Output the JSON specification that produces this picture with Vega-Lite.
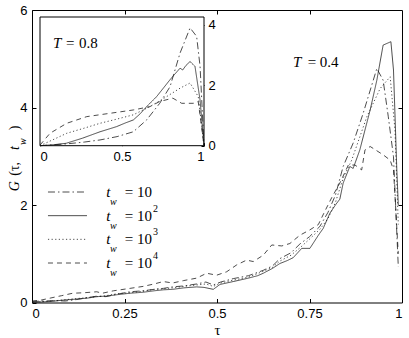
{
"$schema": "https://vega.github.io/schema/vega-lite/v6.json",
"width": 370,
"height": 292.5,
"autosize": {"type": "none"},
"padding": {"left": 32, "top": 10, "right": 7, "bottom": 35.5},
"background": "white",
"config": {
  "view": {"stroke": "#000", "strokeWidth": 1},
  "axis": {"labelFont": "Liberation Sans", "labelFontSize": 13, "labelColor": "#000", "tickColor": "#000", "grid": false, "domain": false, "tickWidth": 1},
  "text": {"font": "Liberation Serif", "fontSize": 15, "color": "#000"}
},
"datasets": {
  "main": [
    {"tw":"10","t":0,"g":0.02},{"tw":"10","t":0.03,"g":0.03},{"tw":"10","t":0.06,"g":0.04},{"tw":"10","t":0.09,"g":0.03},{"tw":"10","t":0.12,"g":0.06},{"tw":"10","t":0.15,"g":0.1},{"tw":"10","t":0.175,"g":0.13},{"tw":"10","t":0.2,"g":0.12},{"tw":"10","t":0.23,"g":0.17},{"tw":"10","t":0.265,"g":0.22},{"tw":"10","t":0.3,"g":0.24},{"tw":"10","t":0.33,"g":0.27},{"tw":"10","t":0.355,"g":0.29},{"tw":"10","t":0.38,"g":0.32},{"tw":"10","t":0.41,"g":0.34},{"tw":"10","t":0.445,"g":0.38},{"tw":"10","t":0.47,"g":0.42},{"tw":"10","t":0.49,"g":0.36},{"tw":"10","t":0.51,"g":0.42},{"tw":"10","t":0.544,"g":0.49},{"tw":"10","t":0.585,"g":0.55},{"tw":"10","t":0.625,"g":0.66},{"tw":"10","t":0.65,"g":0.75},{"tw":"10","t":0.67,"g":0.9},{"tw":"10","t":0.7,"g":1.02},{"tw":"10","t":0.724,"g":1.2},{"tw":"10","t":0.75,"g":1.35},{"tw":"10","t":0.778,"g":1.56},{"tw":"10","t":0.8,"g":1.85},{"tw":"10","t":0.82,"g":2.2},{"tw":"10","t":0.841,"g":2.79},{"tw":"10","t":0.868,"g":3.27},{"tw":"10","t":0.895,"g":3.88},{"tw":"10","t":0.932,"g":4.8},{"tw":"10","t":0.949,"g":4.56},{"tw":"10","t":0.963,"g":3.81},{"tw":"10","t":0.977,"g":2.99},{"tw":"10","t":0.99,"g":0.73},
    {"tw":"10^2","t":0,"g":0},{"tw":"10^2","t":0.025,"g":0.01},{"tw":"10^2","t":0.05,"g":0.02},{"tw":"10^2","t":0.085,"g":0.05},{"tw":"10^2","t":0.12,"g":0.07},{"tw":"10^2","t":0.15,"g":0.09},{"tw":"10^2","t":0.175,"g":0.12},{"tw":"10^2","t":0.2,"g":0.13},{"tw":"10^2","t":0.23,"g":0.16},{"tw":"10^2","t":0.265,"g":0.19},{"tw":"10^2","t":0.3,"g":0.21},{"tw":"10^2","t":0.33,"g":0.24},{"tw":"10^2","t":0.355,"g":0.26},{"tw":"10^2","t":0.38,"g":0.27},{"tw":"10^2","t":0.41,"g":0.3},{"tw":"10^2","t":0.445,"g":0.32},{"tw":"10^2","t":0.465,"g":0.31},{"tw":"10^2","t":0.49,"g":0.27},{"tw":"10^2","t":0.508,"g":0.37},{"tw":"10^2","t":0.544,"g":0.43},{"tw":"10^2","t":0.585,"g":0.5},{"tw":"10^2","t":0.61,"g":0.55},{"tw":"10^2","t":0.625,"g":0.6},{"tw":"10^2","t":0.65,"g":0.7},{"tw":"10^2","t":0.67,"g":0.8},{"tw":"10^2","t":0.69,"g":0.86},{"tw":"10^2","t":0.706,"g":0.92},{"tw":"10^2","t":0.729,"g":1.11},{"tw":"10^2","t":0.751,"g":1.11},{"tw":"10^2","t":0.774,"g":1.38},{"tw":"10^2","t":0.787,"g":1.52},{"tw":"10^2","t":0.805,"g":1.83},{"tw":"10^2","t":0.82,"g":2.0},{"tw":"10^2","t":0.832,"g":2.12},{"tw":"10^2","t":0.841,"g":2.45},{"tw":"10^2","t":0.859,"g":2.79},{"tw":"10^2","t":0.868,"g":2.75},{"tw":"10^2","t":0.886,"g":3.13},{"tw":"10^2","t":0.914,"g":3.95},{"tw":"10^2","t":0.932,"g":4.56},{"tw":"10^2","t":0.949,"g":5.28},{"tw":"10^2","t":0.97,"g":5.35},{"tw":"10^2","t":0.977,"g":4.77},{"tw":"10^2","t":0.986,"g":2.72},{"tw":"10^2","t":0.99,"g":2.0},
    {"tw":"10^3","t":0,"g":0.01},{"tw":"10^3","t":0.04,"g":0.02},{"tw":"10^3","t":0.08,"g":0.05},{"tw":"10^3","t":0.12,"g":0.08},{"tw":"10^3","t":0.15,"g":0.1},{"tw":"10^3","t":0.175,"g":0.12},{"tw":"10^3","t":0.2,"g":0.14},{"tw":"10^3","t":0.23,"g":0.18},{"tw":"10^3","t":0.265,"g":0.2},{"tw":"10^3","t":0.3,"g":0.23},{"tw":"10^3","t":0.33,"g":0.27},{"tw":"10^3","t":0.355,"g":0.28},{"tw":"10^3","t":0.38,"g":0.3},{"tw":"10^3","t":0.41,"g":0.33},{"tw":"10^3","t":0.445,"g":0.36},{"tw":"10^3","t":0.47,"g":0.38},{"tw":"10^3","t":0.49,"g":0.33},{"tw":"10^3","t":0.51,"g":0.4},{"tw":"10^3","t":0.544,"g":0.46},{"tw":"10^3","t":0.585,"g":0.52},{"tw":"10^3","t":0.625,"g":0.64},{"tw":"10^3","t":0.65,"g":0.72},{"tw":"10^3","t":0.67,"g":0.85},{"tw":"10^3","t":0.7,"g":0.97},{"tw":"10^3","t":0.724,"g":1.12},{"tw":"10^3","t":0.75,"g":1.3},{"tw":"10^3","t":0.778,"g":1.5},{"tw":"10^3","t":0.8,"g":1.72},{"tw":"10^3","t":0.82,"g":2.05},{"tw":"10^3","t":0.841,"g":2.55},{"tw":"10^3","t":0.864,"g":2.92},{"tw":"10^3","t":0.905,"g":3.81},{"tw":"10^3","t":0.941,"g":4.39},{"tw":"10^3","t":0.968,"g":4.63},{"tw":"10^3","t":0.981,"g":3.54},{"tw":"10^3","t":0.99,"g":1.6},
    {"tw":"10^4","t":0,"g":0.03},{"tw":"10^4","t":0.025,"g":0.05},{"tw":"10^4","t":0.049,"g":0.09},{"tw":"10^4","t":0.08,"g":0.14},{"tw":"10^4","t":0.11,"g":0.19},{"tw":"10^4","t":0.14,"g":0.2},{"tw":"10^4","t":0.175,"g":0.22},{"tw":"10^4","t":0.19,"g":0.19},{"tw":"10^4","t":0.22,"g":0.24},{"tw":"10^4","t":0.265,"g":0.29},{"tw":"10^4","t":0.3,"g":0.33},{"tw":"10^4","t":0.33,"g":0.38},{"tw":"10^4","t":0.355,"g":0.43},{"tw":"10^4","t":0.38,"g":0.4},{"tw":"10^4","t":0.41,"g":0.45},{"tw":"10^4","t":0.445,"g":0.5},{"tw":"10^4","t":0.472,"g":0.6},{"tw":"10^4","t":0.499,"g":0.56},{"tw":"10^4","t":0.526,"g":0.63},{"tw":"10^4","t":0.553,"g":0.77},{"tw":"10^4","t":0.58,"g":0.87},{"tw":"10^4","t":0.598,"g":0.84},{"tw":"10^4","t":0.625,"g":0.97},{"tw":"10^4","t":0.648,"g":1.18},{"tw":"10^4","t":0.675,"g":1.16},{"tw":"10^4","t":0.697,"g":1.21},{"tw":"10^4","t":0.724,"g":1.38},{"tw":"10^4","t":0.751,"g":1.49},{"tw":"10^4","t":0.774,"g":1.6},{"tw":"10^4","t":0.79,"g":1.85},{"tw":"10^4","t":0.81,"g":2.15},{"tw":"10^4","t":0.832,"g":2.45},{"tw":"10^4","t":0.855,"g":2.82},{"tw":"10^4","t":0.873,"g":2.82},{"tw":"10^4","t":0.891,"g":2.72},{"tw":"10^4","t":0.9,"g":3.13},{"tw":"10^4","t":0.914,"g":3.2},{"tw":"10^4","t":0.949,"g":3.03},{"tw":"10^4","t":0.968,"g":2.92},{"tw":"10^4","t":0.977,"g":2.72},{"tw":"10^4","t":0.99,"g":1.0}
  ],
  "inset": [
    {"tw":"10","t":0,"g":0},{"tw":"10","t":0.163,"g":0.06},{"tw":"10","t":0.27,"g":0.12},{"tw":"10","t":0.366,"g":0.19},{"tw":"10","t":0.47,"g":0.3},{"tw":"10","t":0.569,"g":0.46},{"tw":"10","t":0.65,"g":0.85},{"tw":"10","t":0.73,"g":1.4},{"tw":"10","t":0.793,"g":1.95},{"tw":"10","t":0.854,"g":3.06},{"tw":"10","t":0.915,"g":3.89},{"tw":"10","t":0.955,"g":3.61},{"tw":"10","t":0.976,"g":2.62},{"tw":"10","t":1,"g":0},
    {"tw":"10^2","t":0,"g":0},{"tw":"10^2","t":0.08,"g":0.03},{"tw":"10^2","t":0.16,"g":0.08},{"tw":"10^2","t":0.26,"g":0.25},{"tw":"10^2","t":0.366,"g":0.46},{"tw":"10^2","t":0.42,"g":0.55},{"tw":"10^2","t":0.467,"g":0.63},{"tw":"10^2","t":0.52,"g":0.75},{"tw":"10^2","t":0.569,"g":0.85},{"tw":"10^2","t":0.61,"g":1.05},{"tw":"10^2","t":0.65,"g":1.29},{"tw":"10^2","t":0.711,"g":1.62},{"tw":"10^2","t":0.752,"g":1.9},{"tw":"10^2","t":0.793,"g":2.18},{"tw":"10^2","t":0.82,"g":2.35},{"tw":"10^2","t":0.854,"g":2.56},{"tw":"10^2","t":0.87,"g":2.5},{"tw":"10^2","t":0.89,"g":2.65},{"tw":"10^2","t":0.915,"g":2.78},{"tw":"10^2","t":0.945,"g":2.62},{"tw":"10^2","t":0.976,"g":1.51},{"tw":"10^2","t":1,"g":0},
    {"tw":"10^3","t":0,"g":0},{"tw":"10^3","t":0.08,"g":0.2},{"tw":"10^3","t":0.163,"g":0.41},{"tw":"10^3","t":0.27,"g":0.58},{"tw":"10^3","t":0.366,"g":0.74},{"tw":"10^3","t":0.47,"g":0.88},{"tw":"10^3","t":0.569,"g":1.02},{"tw":"10^3","t":0.67,"g":1.29},{"tw":"10^3","t":0.772,"g":1.62},{"tw":"10^3","t":0.854,"g":1.9},{"tw":"10^3","t":0.915,"g":2.07},{"tw":"10^3","t":0.965,"g":1.62},{"tw":"10^3","t":1,"g":0},
    {"tw":"10^4","t":0,"g":0.02},{"tw":"10^4","t":0.061,"g":0.41},{"tw":"10^4","t":0.163,"g":0.74},{"tw":"10^4","t":0.285,"g":0.96},{"tw":"10^4","t":0.427,"g":1.07},{"tw":"10^4","t":0.569,"g":1.18},{"tw":"10^4","t":0.67,"g":1.29},{"tw":"10^4","t":0.73,"g":1.46},{"tw":"10^4","t":0.81,"g":1.57},{"tw":"10^4","t":0.864,"g":1.4},{"tw":"10^4","t":0.935,"g":1.4},{"tw":"10^4","t":0.965,"g":1.46},{"tw":"10^4","t":1,"g":0}
  ],
  "legend": [
    {"tw":"10","sup":""},{"tw":"10^2","sup":"2"},{"tw":"10^3","sup":"3"},{"tw":"10^4","sup":"4"}
  ],
  "one": [{}]
},
"layer": [
  {
    "data": {"name": "main"},
    "mark": {"type": "line", "stroke": "#111", "strokeWidth": 0.75},
    "encoding": {
      "x": {"field": "t", "type": "quantitative", "scale": {"domain": [0, 1]},
            "axis": {"values": [0, 0.25, 0.5, 0.75, 1], "format": ".2~f", "title": "τ", "titleFont": "Liberation Serif", "titleFontSize": 15, "titleFontWeight": "normal", "titleColor": "#000", "titlePadding": 2, "tickSize": -4, "labelPadding": 9}},
      "y": {"field": "g", "type": "quantitative", "scale": {"domain": [0, 6]},
            "axis": {"values": [0, 2, 4, 6], "title": null, "tickSize": -4, "labelPadding": 9}},
      "strokeDash": {"field": "tw", "type": "nominal", "legend": null,
            "scale": {"domain": ["10", "10^2", "10^3", "10^4"], "range": [[7, 3, 1.5, 3], [1, 0], [1.2, 2.4], [5, 4]]}}
    }
  },
  {
    "data": {"name": "one"},
    "mark": {"type": "point", "opacity": 0},
    "encoding": {
      "x": {"datum": 0, "type": "quantitative", "scale": {"domain": [0, 1]},
            "axis": {"orient": "top", "values": [0.25, 0.5, 0.75], "labels": false, "title": null, "tickSize": -4}},
      "y": {"datum": 0, "type": "quantitative", "scale": {"domain": [0, 6]},
            "axis": {"orient": "right", "values": [2, 4], "labels": false, "title": null, "tickSize": -4}}
    }
  },
  {
    "data": {"name": "one"},
    "mark": {"type": "text", "text": "T", "fontStyle": "italic", "align": "left", "baseline": "middle"},
    "encoding": {"x": {"datum": 0.7054, "type": "quantitative", "scale": {"domain": [0, 1]}, "axis": null},
                 "y": {"datum": 4.94, "type": "quantitative", "scale": {"domain": [0, 6]}, "axis": null}}
  },
  {
    "data": {"name": "one"},
    "mark": {"type": "text", "text": "=", "align": "center", "baseline": "middle"},
    "encoding": {"x": {"datum": 0.757, "type": "quantitative", "scale": {"domain": [0, 1]}, "axis": null},
                 "y": {"datum": 4.94, "type": "quantitative", "scale": {"domain": [0, 6]}, "axis": null}}
  },
  {
    "data": {"name": "one"},
    "mark": {"type": "text", "text": "0.4", "align": "left", "baseline": "middle"},
    "encoding": {"x": {"datum": 0.778, "type": "quantitative", "scale": {"domain": [0, 1]}, "axis": null},
                 "y": {"datum": 4.94, "type": "quantitative", "scale": {"domain": [0, 6]}, "axis": null}}
  },
  {
    "data": {"name": "one"},
    "mark": {"type": "text", "text": "G", "fontStyle": "italic", "fontSize": 14, "angle": 270, "align": "left", "baseline": "middle"},
    "encoding": {"x": {"datum": -0.046, "type": "quantitative", "scale": {"domain": [0, 1]}, "axis": null},
                 "y": {"datum": 2.28, "type": "quantitative", "scale": {"domain": [0, 6]}, "axis": null}}
  },
  {
    "data": {"name": "one"},
    "mark": {"type": "text", "text": "(τ,", "fontSize": 14, "angle": 270, "align": "left", "baseline": "middle"},
    "encoding": {"x": {"datum": -0.046, "type": "quantitative", "scale": {"domain": [0, 1]}, "axis": null},
                 "y": {"datum": 2.6, "type": "quantitative", "scale": {"domain": [0, 6]}, "axis": null}}
  },
  {
    "data": {"name": "one"},
    "mark": {"type": "text", "text": "t", "fontStyle": "italic", "fontSize": 14, "angle": 270, "align": "center", "baseline": "middle"},
    "encoding": {"x": {"datum": -0.046, "type": "quantitative", "scale": {"domain": [0, 1]}, "axis": null},
                 "y": {"datum": 3.17, "type": "quantitative", "scale": {"domain": [0, 6]}, "axis": null}}
  },
  {
    "data": {"name": "one"},
    "mark": {"type": "text", "text": "w", "fontStyle": "italic", "fontSize": 10, "angle": 270, "align": "center", "baseline": "middle"},
    "encoding": {"x": {"datum": -0.0243, "type": "quantitative", "scale": {"domain": [0, 1]}, "axis": null},
                 "y": {"datum": 3.3, "type": "quantitative", "scale": {"domain": [0, 6]}, "axis": null}}
  },
  {
    "data": {"name": "one"},
    "mark": {"type": "text", "text": ")", "fontSize": 14, "angle": 270, "align": "center", "baseline": "middle"},
    "encoding": {"x": {"datum": -0.046, "type": "quantitative", "scale": {"domain": [0, 1]}, "axis": null},
                 "y": {"datum": 3.58, "type": "quantitative", "scale": {"domain": [0, 6]}, "axis": null}}
  },
  {
    "data": {"name": "one"},
    "mark": {"type": "rect", "fill": "white", "stroke": "#000", "strokeWidth": 1},
    "encoding": {
      "x": {"datum": 0, "type": "quantitative", "scale": {"domain": [0, 1], "range": [8, 172]},
            "axis": {"orient": "bottom", "offset": -156.8, "values": [0, 0.5, 1], "format": ".1~f", "title": null, "tickSize": -3, "labelPadding": 8}},
      "x2": {"datum": 1},
      "y": {"datum": 0, "type": "quantitative", "scale": {"domain": [0, 4.25], "range": [135.7, 7]},
            "axis": {"orient": "right", "offset": -198, "values": [0, 2, 4], "title": null, "tickSize": -3, "labelPadding": 7}},
      "y2": {"datum": 4.25}
    }
  },
  {
    "data": {"name": "inset"},
    "mark": {"type": "line", "stroke": "#111", "strokeWidth": 0.75},
    "encoding": {
      "x": {"field": "t", "type": "quantitative", "scale": {"domain": [0, 1], "range": [8, 172]}, "axis": null},
      "y": {"field": "g", "type": "quantitative", "scale": {"domain": [0, 4.25], "range": [135.7, 7]}, "axis": null},
      "strokeDash": {"field": "tw", "type": "nominal", "legend": null,
            "scale": {"domain": ["10", "10^2", "10^3", "10^4"], "range": [[7, 3, 1.5, 3], [1, 0], [1.2, 2.4], [5, 4]]}}
    }
  },
  {
    "data": {"name": "one"},
    "mark": {"type": "text", "text": "T", "fontStyle": "italic", "align": "left", "baseline": "middle"},
    "encoding": {"x": {"datum": 0.08, "type": "quantitative", "scale": {"domain": [0, 1], "range": [8, 172]}, "axis": null},
                 "y": {"datum": 3.4, "type": "quantitative", "scale": {"domain": [0, 4.25], "range": [135.7, 7]}, "axis": null}}
  },
  {
    "data": {"name": "one"},
    "mark": {"type": "text", "text": "=", "align": "center", "baseline": "middle"},
    "encoding": {"x": {"datum": 0.185, "type": "quantitative", "scale": {"domain": [0, 1], "range": [8, 172]}, "axis": null},
                 "y": {"datum": 3.4, "type": "quantitative", "scale": {"domain": [0, 4.25], "range": [135.7, 7]}, "axis": null}}
  },
  {
    "data": {"name": "one"},
    "mark": {"type": "text", "text": "0.8", "align": "left", "baseline": "middle"},
    "encoding": {"x": {"datum": 0.238, "type": "quantitative", "scale": {"domain": [0, 1], "range": [8, 172]}, "axis": null},
                 "y": {"datum": 3.4, "type": "quantitative", "scale": {"domain": [0, 4.25], "range": [135.7, 7]}, "axis": null}}
  },
  {
    "data": {"name": "legend"},
    "mark": {"type": "rule", "stroke": "#111", "strokeWidth": 0.75},
    "encoding": {
      "x": {"datum": 0.0432, "type": "quantitative", "scale": {"domain": [0, 1]}, "axis": null},
      "x2": {"datum": 0.1486},
      "y": {"field": "tw", "type": "ordinal", "scale": {"type": "point", "domain": ["10", "10^2", "10^3", "10^4"], "range": [182, 253], "padding": 0}, "axis": null},
      "strokeDash": {"field": "tw", "type": "nominal", "legend": null,
            "scale": {"domain": ["10", "10^2", "10^3", "10^4"], "range": [[7, 3, 1.5, 3], [1, 0], [1.2, 2.4], [5, 4]]}}
    }
  },
  {
    "data": {"name": "legend"},
    "mark": {"type": "text", "text": "t", "fontStyle": "italic", "align": "center", "baseline": "middle"},
    "encoding": {
      "x": {"datum": 0.206, "type": "quantitative", "scale": {"domain": [0, 1]}, "axis": null},
      "y": {"field": "tw", "type": "ordinal", "scale": {"type": "point", "domain": ["10", "10^2", "10^3", "10^4"], "range": [182, 253], "padding": 0}, "axis": null}
    }
  },
  {
    "data": {"name": "legend"},
    "mark": {"type": "text", "text": "w", "fontStyle": "italic", "fontSize": 10, "align": "center", "baseline": "middle", "dx": 5, "dy": 10},
    "encoding": {
      "x": {"datum": 0.206, "type": "quantitative", "scale": {"domain": [0, 1]}, "axis": null},
      "y": {"field": "tw", "type": "ordinal", "scale": {"type": "point", "domain": ["10", "10^2", "10^3", "10^4"], "range": [182, 253], "padding": 0}, "axis": null}
    }
  },
  {
    "data": {"name": "legend"},
    "mark": {"type": "text", "text": "=", "align": "center", "baseline": "middle"},
    "encoding": {
      "x": {"datum": 0.262, "type": "quantitative", "scale": {"domain": [0, 1]}, "axis": null},
      "y": {"field": "tw", "type": "ordinal", "scale": {"type": "point", "domain": ["10", "10^2", "10^3", "10^4"], "range": [182, 253], "padding": 0}, "axis": null}
    }
  },
  {
    "data": {"name": "legend"},
    "mark": {"type": "text", "text": "10", "align": "right", "baseline": "middle"},
    "encoding": {
      "x": {"datum": 0.3243, "type": "quantitative", "scale": {"domain": [0, 1]}, "axis": null},
      "y": {"field": "tw", "type": "ordinal", "scale": {"type": "point", "domain": ["10", "10^2", "10^3", "10^4"], "range": [182, 253], "padding": 0}, "axis": null}
    }
  },
  {
    "data": {"name": "legend"},
    "mark": {"type": "text", "fontSize": 10, "align": "left", "baseline": "middle", "dx": 1, "dy": -7},
    "encoding": {
      "text": {"field": "sup"},
      "x": {"datum": 0.3243, "type": "quantitative", "scale": {"domain": [0, 1]}, "axis": null},
      "y": {"field": "tw", "type": "ordinal", "scale": {"type": "point", "domain": ["10", "10^2", "10^3", "10^4"], "range": [182, 253], "padding": 0}, "axis": null}
    }
  }
],
"resolve": {"scale": {"x": "independent", "y": "independent"}}
}
